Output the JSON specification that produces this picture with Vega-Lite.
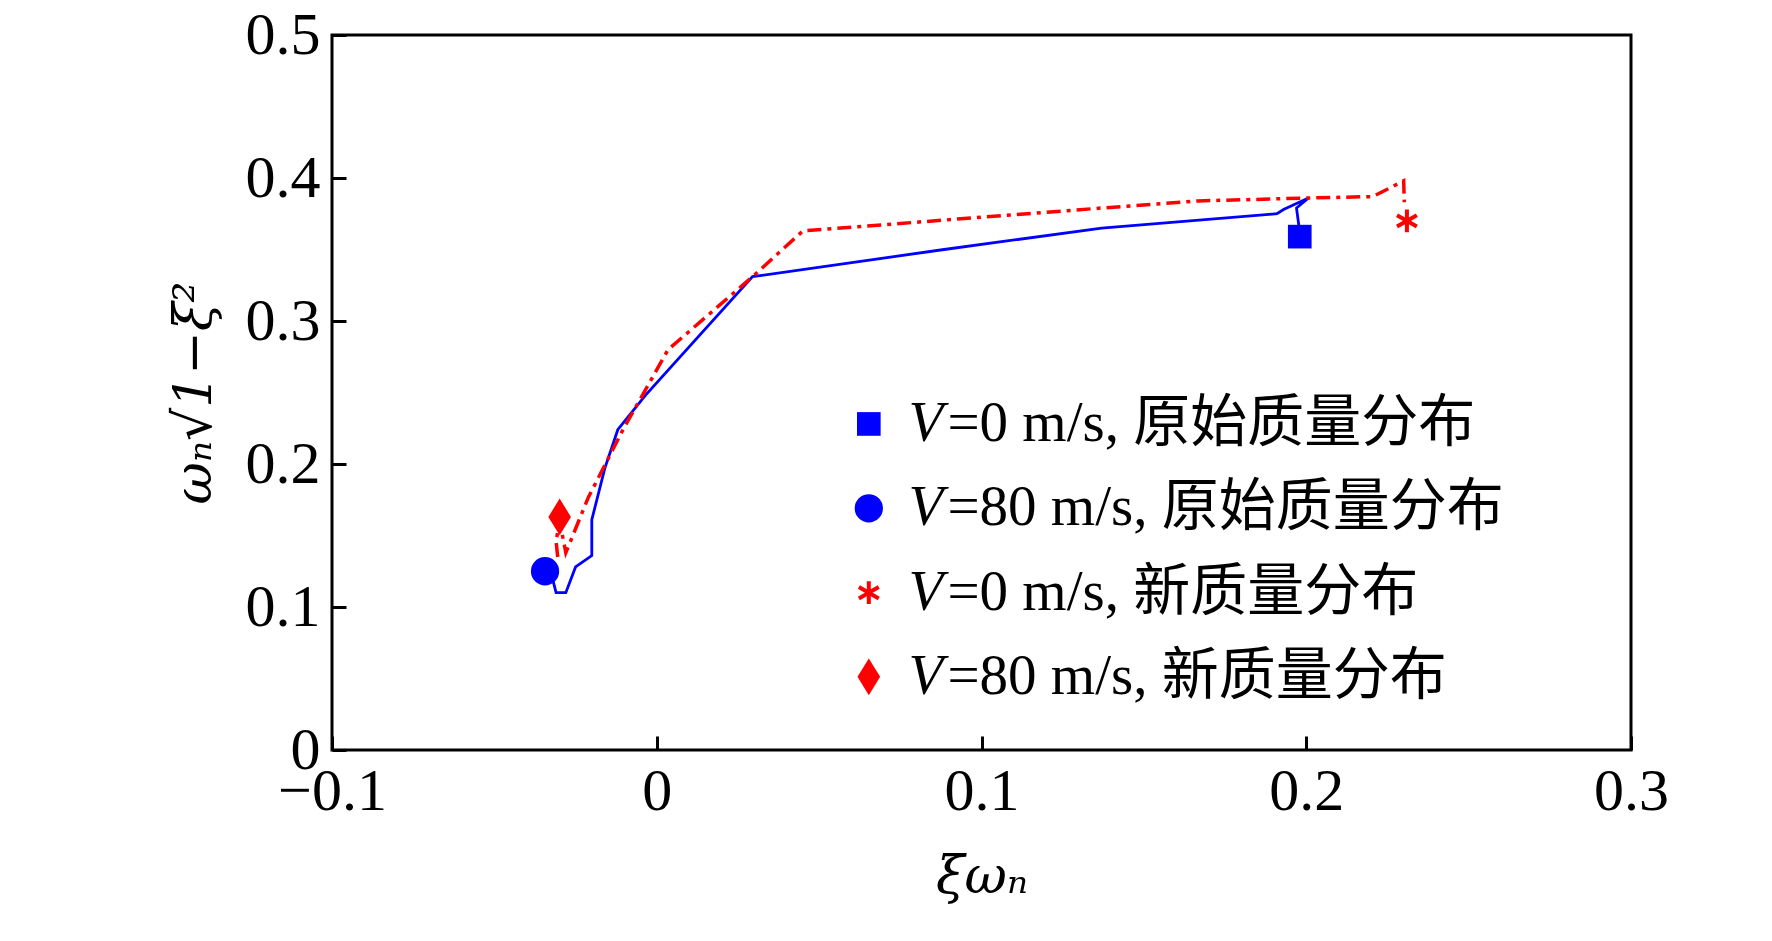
{
  "$schema": "https://vega.github.io/schema/vega-lite/v6.json",
  "width": 1299,
  "height": 715,
  "autosize": "none",
  "padding": {"left": 332, "top": 35, "right": 141, "bottom": 191},
  "background": "white",
  "config": {
    "view": {"stroke": "black", "strokeWidth": 3},
    "font": "Liberation Serif"
  },
  "datasets": {
    "lines": [
      {"s": "blue", "o": 1, "x": -0.0344, "y": 0.125},
      {"s": "blue", "o": 2, "x": -0.032, "y": 0.119},
      {"s": "blue", "o": 3, "x": -0.031, "y": 0.110},
      {"s": "blue", "o": 4, "x": -0.028, "y": 0.110},
      {"s": "blue", "o": 5, "x": -0.025, "y": 0.128},
      {"s": "blue", "o": 6, "x": -0.020, "y": 0.136},
      {"s": "blue", "o": 7, "x": -0.020, "y": 0.161},
      {"s": "blue", "o": 8, "x": -0.016, "y": 0.197},
      {"s": "blue", "o": 9, "x": -0.012, "y": 0.224},
      {"s": "blue", "o": 10, "x": -0.0035, "y": 0.248},
      {"s": "blue", "o": 11, "x": 0.0295, "y": 0.331},
      {"s": "blue", "o": 12, "x": 0.0885, "y": 0.350},
      {"s": "blue", "o": 13, "x": 0.137, "y": 0.365},
      {"s": "blue", "o": 14, "x": 0.191, "y": 0.375},
      {"s": "blue", "o": 15, "x": 0.193, "y": 0.378},
      {"s": "blue", "o": 16, "x": 0.2007, "y": 0.386},
      {"s": "blue", "o": 17, "x": 0.197, "y": 0.379},
      {"s": "blue", "o": 18, "x": 0.198, "y": 0.362},
      {"s": "red", "o": 1, "x": -0.0305, "y": 0.135},
      {"s": "red", "o": 2, "x": -0.031, "y": 0.146},
      {"s": "red", "o": 3, "x": -0.0299, "y": 0.160},
      {"s": "red", "o": 4, "x": -0.028, "y": 0.138},
      {"s": "red", "o": 5, "x": -0.021, "y": 0.177},
      {"s": "red", "o": 6, "x": -0.0104, "y": 0.224},
      {"s": "red", "o": 7, "x": 0.0035, "y": 0.280},
      {"s": "red", "o": 8, "x": 0.0295, "y": 0.331},
      {"s": "red", "o": 9, "x": 0.045, "y": 0.363},
      {"s": "red", "o": 10, "x": 0.137, "y": 0.379},
      {"s": "red", "o": 11, "x": 0.1667, "y": 0.384},
      {"s": "red", "o": 12, "x": 0.201, "y": 0.386},
      {"s": "red", "o": 13, "x": 0.2205, "y": 0.387},
      {"s": "red", "o": 14, "x": 0.230, "y": 0.398},
      {"s": "red", "o": 15, "x": 0.2302, "y": 0.383}
    ],
    "pts": [
      {"k": "sq", "x": 0.198, "y": 0.359},
      {"k": "ci", "x": -0.0344, "y": 0.125},
      {"k": "st", "x": 0.231, "y": 0.370},
      {"k": "di", "x": -0.0299, "y": 0.163},
      {"k": "sq", "x": 0.0653, "y": 0.228},
      {"k": "ci", "x": 0.0653, "y": 0.169},
      {"k": "st", "x": 0.0653, "y": 0.110},
      {"k": "di", "x": 0.0653, "y": 0.0512}
    ],
    "leg": [
      {"x": 0.0775, "x2": 0.0895, "y": 0.228, "t": "=0 m/s, 原始质量分布"},
      {"x": 0.0775, "x2": 0.0895, "y": 0.169, "t": "=80 m/s, 原始质量分布"},
      {"x": 0.0775, "x2": 0.0895, "y": 0.110, "t": "=0 m/s, 新质量分布"},
      {"x": 0.0775, "x2": 0.0895, "y": 0.0512, "t": "=80 m/s, 新质量分布"}
    ]
  },
  "encoding": {
    "x": {"field": "x", "type": "quantitative",
      "scale": {"domain": [-0.1, 0.3], "nice": false, "zero": false},
      "axis": {"title": "ξωₙ", "titleFont": "DejaVu Serif", "titleFontStyle": "italic", "titleFontWeight": "normal", "titleFontSize": 52, "titlePadding": 30,
        "values": [-0.1, 0, 0.1, 0.2, 0.3], "format": ".1~f", "labelExpr": "replace(datum.label, '-', '−')",
        "labelFontSize": 60, "labelPadding": 26, "grid": false, "domain": false, "tickSize": -14, "tickWidth": 3, "tickColor": "black", "labelColor": "black", "labelFlush": false}},
    "y": {"field": "y", "type": "quantitative",
      "scale": {"domain": [0, 0.5], "nice": false},
      "axis": {"title": "ωₙ√1−ξ²", "titleFont": "DejaVu Serif", "titleFontStyle": "italic", "titleFontWeight": "normal", "titleFontSize": 52, "titlePadding": 24,
        "values": [0, 0.1, 0.2, 0.3, 0.4, 0.5], "format": ".1~f",
        "labelFontSize": 60, "labelPadding": 26, "grid": false, "domain": false, "tickSize": -14, "tickWidth": 3, "tickColor": "black", "labelColor": "black", "labelFlush": false}}
  },
  "layer": [
    {
      "data": {"name": "lines"},
      "transform": [{"filter": "datum.s == 'blue'"}],
      "mark": {"type": "line", "color": "#0000ff", "strokeWidth": 2.8},
      "encoding": {"order": {"field": "o"}}
    },
    {
      "data": {"name": "lines"},
      "transform": [{"filter": "datum.s == 'red'"}],
      "mark": {"type": "line", "color": "#ff0000", "strokeWidth": 3.5, "strokeDash": [14, 6, 4, 6]},
      "encoding": {"order": {"field": "o"}}
    },
    {
      "data": {"name": "pts"},
      "transform": [{"filter": "datum.k == 'sq'"}],
      "mark": {"type": "point", "shape": "square", "filled": true, "color": "#0000ff", "size": 560, "opacity": 1}
    },
    {
      "data": {"name": "pts"},
      "transform": [{"filter": "datum.k == 'ci'"}],
      "mark": {"type": "point", "shape": "circle", "filled": true, "color": "#0000ff", "size": 800, "opacity": 1}
    },
    {
      "data": {"name": "pts"},
      "transform": [{"filter": "datum.k == 'st'"}],
      "mark": {"type": "point", "shape": "M0,-1L0,1M-0.87,-0.5L0.87,0.5M-0.87,0.5L0.87,-0.5", "filled": false, "color": "#ff0000", "strokeWidth": 4, "size": 520, "opacity": 1}
    },
    {
      "data": {"name": "pts"},
      "transform": [{"filter": "datum.k == 'di'"}],
      "mark": {"type": "point", "shape": "M0,-1.3L0.8,0L0,1.3L-0.8,0Z", "filled": true, "color": "#ff0000", "size": 800, "opacity": 1}
    },
    {
      "data": {"name": "leg"},
      "mark": {"type": "text", "text": "V", "align": "left", "baseline": "middle", "fontSize": 57, "fontStyle": "italic", "font": "Liberation Serif", "color": "black"}
    },
    {
      "data": {"name": "leg"},
      "mark": {"type": "text", "align": "left", "baseline": "middle", "fontSize": 57, "font": "Liberation Serif, Noto Sans CJK SC", "color": "black"},
      "encoding": {"x": {"field": "x2", "type": "quantitative"}, "text": {"field": "t"}}
    }
  ]
}
